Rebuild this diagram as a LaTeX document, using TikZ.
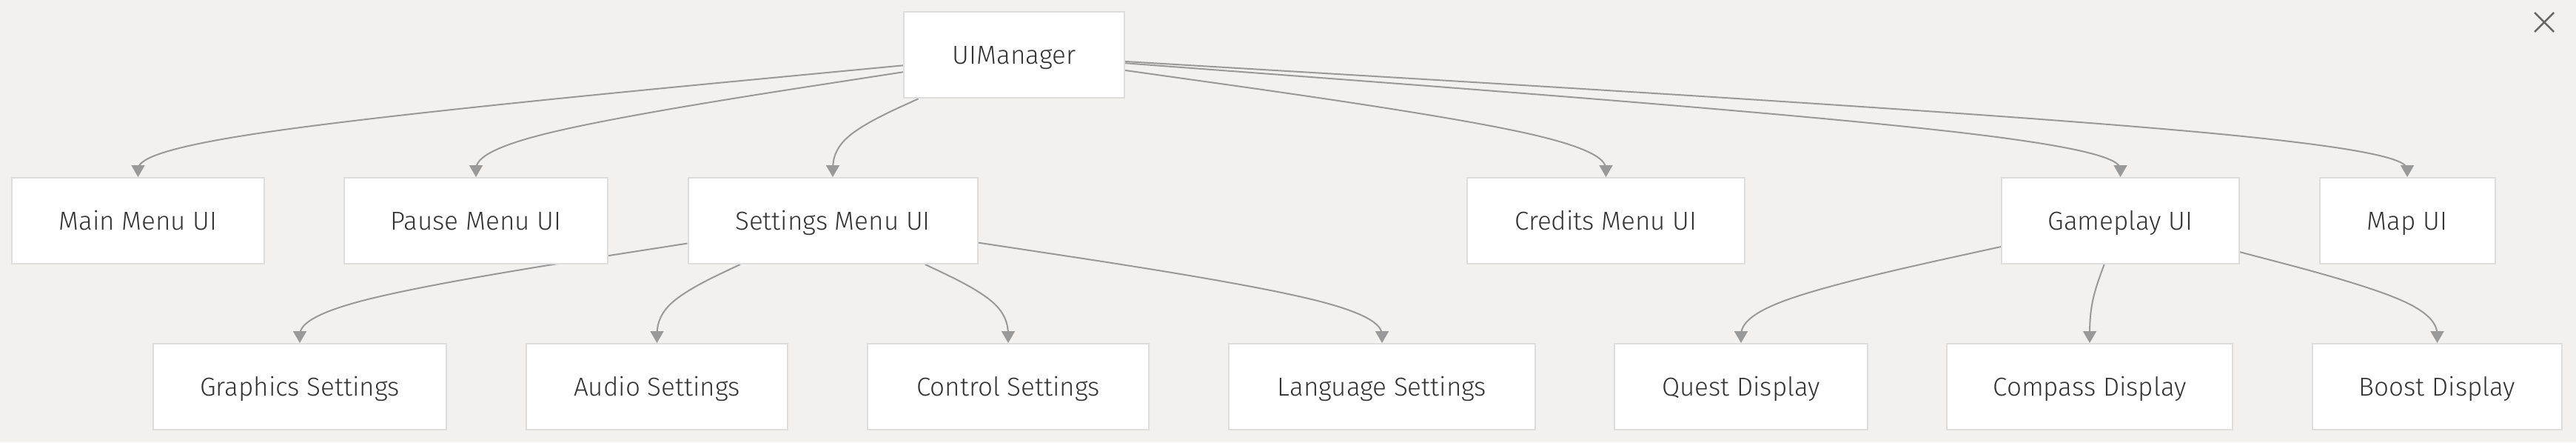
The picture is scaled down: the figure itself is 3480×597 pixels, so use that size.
\documentclass[tikz,border=0pt]{standalone}
\usepackage{fontspec}
\setmainfont{Fira Sans}[UprightFont={* Light}]
\usetikzlibrary{calc,arrows.meta}
\definecolor{bgc}{HTML}{F2F1EF}
\definecolor{boxline}{HTML}{DDDDDD}
\definecolor{edgec}{HTML}{999999}
\definecolor{txt}{HTML}{333333}
\definecolor{closec}{HTML}{666666}
\pgfdeclarelayer{bglayer}
\pgfdeclarelayer{edgelayer}
\pgfsetlayers{bglayer,edgelayer,main}
\tikzset{
  box/.style={draw=boxline, line width=2pt, fill=white, minimum height=116pt,
    inner sep=0pt, text height=24pt, text depth=0pt, text=txt,
    font=\fontsize{35}{42}\selectfont},
  edge/.style={draw=edgec, line width=2pt, -{Triangle[length=16pt,width=18pt]}},
}
\newcommand\mmedge[3]{%
  \coordinate (E) at (#2.north);
  \coordinate (P) at (#2.north |- 0,#3);
  \path (#1) -- (P) coordinate[pos=0] (S);
  \begin{pgfonlayer}{edgelayer}
  \draw[edge] (S) -- ($(S)!1/6!(P)$)
     .. controls ($(S)!1/3!(P)$) and ($(S)!2/3!(P)$) .. ($0.166667*(S)+0.666667*(P)+0.166667*(E)$)
     .. controls ($(P)!1/3!(E)$) and ($(P)!2/3!(E)$) .. ($(P)!5/6!(E)$) -- (E);
  \end{pgfonlayer}
}
\begin{document}
\begin{tikzpicture}[x=1pt,y=-1pt]
\begin{pgfonlayer}{bglayer}
\fill[bgc] (0,0) rectangle (3480,597);
\end{pgfonlayer}
\useasboundingbox (0,0) rectangle (3480,597);
% row 1
\node[box, minimum width=298pt] (ui) at (1370,74.25) {UIManager};
% row 2
\node[box, minimum width=341pt] (main) at (186.5,298) {Main Menu UI};
\node[box, minimum width=356pt] (pause) at (643,298) {Pause Menu UI};
\node[box, minimum width=391pt] (settings) at (1125,298) {Settings Menu UI};
\node[box, minimum width=375pt] (credits) at (2169.5,298) {Credits Menu UI};
\node[box, minimum width=321pt] (gameplay) at (2864.5,298) {Gameplay UI};
\node[box, minimum width=237pt] (map) at (3252,298) {Map UI};
% row 3
\node[box, minimum width=396pt] (graphics) at (405,522) {Graphics Settings};
\node[box, minimum width=353pt] (audio) at (887.5,522) {Audio Settings};
\node[box, minimum width=380pt] (control) at (1362,522) {Control Settings};
\node[box, minimum width=414pt] (language) at (1867,522) {Language Settings};
\node[box, minimum width=342pt] (quest) at (2352,522) {Quest Display};
\node[box, minimum width=386pt] (compass) at (2823,522) {Compass Display};
\node[box, minimum width=337pt] (boost) at (3292.5,522) {Boost Display};
% edges
\mmedge{ui}{main}{186}
\mmedge{ui}{pause}{186}
\mmedge{ui}{settings}{186}
\mmedge{ui}{credits}{186}
\mmedge{ui}{gameplay}{186}
\mmedge{ui}{map}{186}
\mmedge{settings}{graphics}{410}
\mmedge{settings}{audio}{410}
\mmedge{settings}{control}{410}
\mmedge{settings}{language}{410}
\mmedge{gameplay}{quest}{410}
\mmedge{gameplay}{compass}{410}
\mmedge{gameplay}{boost}{410}
% close icon
\coordinate (xa) at (3424,17);
\coordinate (xb) at (3450,43);
\draw[closec, line width=2.5pt] (xa) -- (xb) (xa -| xb) -- (xb -| xa);
\end{tikzpicture}
\end{document}
